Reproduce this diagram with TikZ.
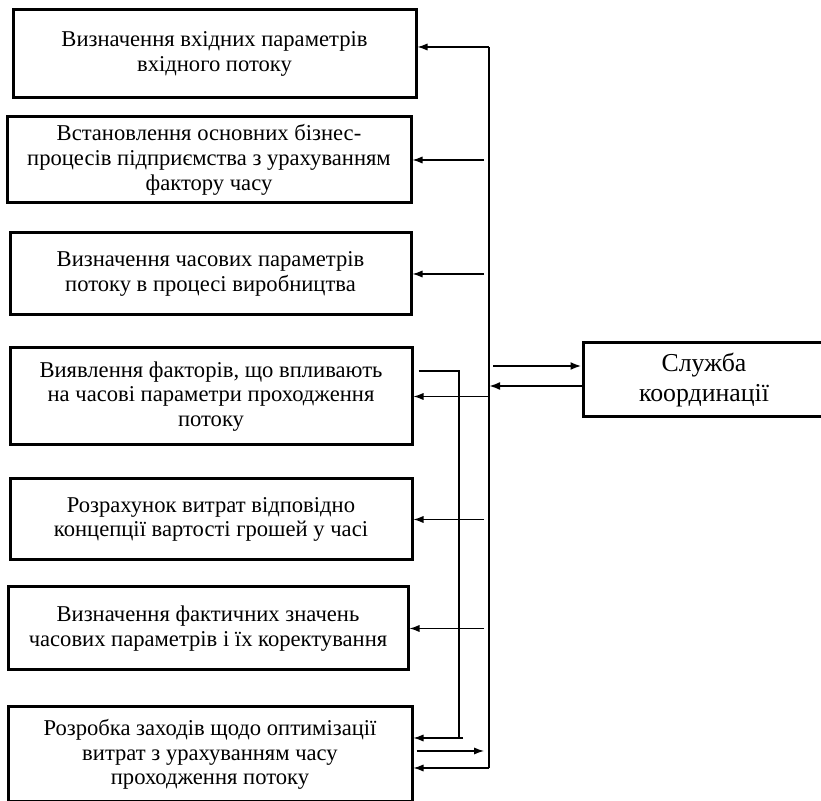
\documentclass[tikz,border=0pt]{standalone}
\usepackage{fontspec}
\setmainfont{Liberation Serif}
\usetikzlibrary{calc,arrows.meta,positioning}
\tikzset{
  stagebox/.style={draw=black,line width=1.5pt,align=center,inner sep=3pt,font=\fontsize{11.3}{12.4}\selectfont},
  arr/.style={line width=.6pt,-{Latex[length=5pt,width=3.6pt]}},
  thickarr/.style={line width=1pt,-{Latex[length=5.5pt,width=4pt]}},
  busline/.style={line width=.6pt}
}

\begin{document}
\begin{tikzpicture}[x=0.5pt,y=-0.5pt]
\clip (0,0) rectangle (821,801);
% stages
\node[stagebox,minimum width=201.5pt,minimum height=44pt] (inParams) at (214.5,54) {Визначення вхідних параметрів\\вхідного потоку};
\node[stagebox,minimum width=202pt,minimum height=43pt] (bizProc) at (209,160) {Встановлення основних бізнес-\\процесів підприємства з урахуванням\\фактору часу};
\node[stagebox,minimum width=200.5pt,minimum height=41pt] (timeParams) at (210.5,274) {Визначення часових параметрів\\потоку в процесі виробництва};
\node[stagebox,minimum width=201pt,minimum height=48.5pt] (factors) at (211,396.5) {Виявлення факторів, що впливають\\на часові параметри  проходження\\потоку};
\node[stagebox,minimum width=201pt,minimum height=40.5pt] (costCalc) at (211,519.5) {Розрахунок витрат відповідно\\концепції вартості грошей у часі};
\node[stagebox,minimum width=200pt,minimum height=41.5pt] (actualVals) at (208,628.5) {Визначення фактичних значень\\часових параметрів і їх коректування};
\node[stagebox,minimum width=202pt,minimum height=47.5pt] (optMeasures) at (210,754.5) {Розробка заходів щодо оптимізації\\витрат з урахуванням часу\\проходження потоку};
% service
\node[stagebox,minimum width=121pt,minimum height=37pt,font=\fontsize{12.9}{15}\selectfont] (coordSvc) at (704,380) {Служба\\координації};

% main bus
\coordinate (busTop) at (489,47);
\coordinate (busBot) at (489,768);
\coordinate (gapX) at (484,0);
\draw[busline] (busTop) -- (busBot);
\draw[arr] (busTop) -- (busTop -| inParams.east);
\draw[arr] (bizProc.east -| gapX) -- (bizProc.east);
\draw[arr] (timeParams.east -| gapX) -- (timeParams.east);
\draw[arr] (factors.east -| busTop) -- (factors.east);
\draw[arr] (costCalc.east -| gapX) -- (costCalc.east);
\draw[arr] (actualVals.east -| gapX) -- (actualVals.east);

% link with the service
\coordinate (svIn) at ($(coordSvc.west)+(0,-14)$);
\coordinate (svOut) at ($(coordSvc.west)+(0,6)$);
\draw[thickarr] ([xshift=2pt]svIn -| busTop) -- (svIn);
\draw[thickarr] (svOut) -- (svOut -| busTop);

% feedback loop
\coordinate (loopTop) at (459,371);
\coordinate (loopBot) at (459,738);
\draw[busline] ([xshift=2.5pt]loopTop -| factors.east) -- (loopTop) -- (loopBot);
\draw[arr] ([xshift=2pt]loopBot) -- (loopBot -| optMeasures.east);

% last stage
\coordinate (busOut) at (484,751);
\draw[arr] ([xshift=1.5pt]busOut -| optMeasures.east) -- (busOut);
\draw[arr] (busBot) -- (busBot -| optMeasures.east);
\end{tikzpicture}
\end{document}
